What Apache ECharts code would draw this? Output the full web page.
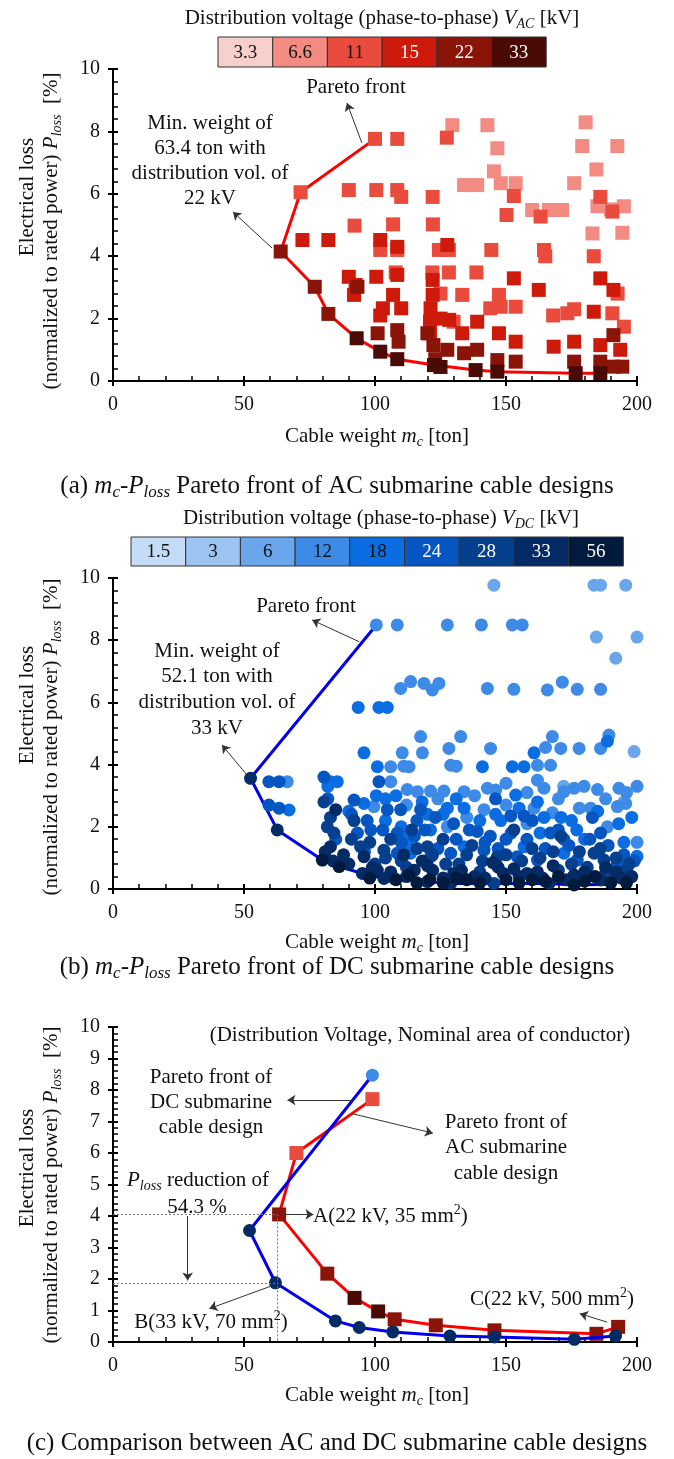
<!DOCTYPE html>
<html>
<head>
<meta charset="utf-8">
<script src="https://cdn.jsdelivr.net/npm/echarts@6/dist/echarts.min.js"></script>
<style>
html,body{margin:0;padding:0;background:#fff;}
#main{width:674px;height:1459px;}
</style>
</head>
<body>
<div id="main"></div>
<script>
// legend categories
var acVolts = ['3.3', '6.6', '11', '15', '22', '33'];
var dcVolts = ['1.5', '3', '6', '12', '18', '24', '28', '33', '56'];

// (a) AC designs [cable weight ton, loss %], one list per distribution voltage
var ac66 = [[129.5,8.2],[142.9,8.2],[146.7,7.46],[180.4,8.29],[179.1,7.53],[192.5,7.53],[184.5,6.78],[145.4,6.72],
  [134,6.28],[139,6.28],[148,6.34],[153.7,6.34],[176,6.34],[160,5.48],[166.4,5.48],[171.4,5.48],[184.9,5.6],
  [190,5.5],[195,5.6],[183,4.73],[194.4,4.75]];
var ac11 = [[100,7.76],[108.5,7.76],[127.4,7.8],[71.6,6.05],[90,6.12],[100.5,6.12],[108.5,6.12],[110,5.9],[122,5.9],
  [153,5.93],[150.2,5.32],[163.2,5.27],[186,5.9],[190.6,5.43],[92.2,4.98],[106.9,5.02],[122.1,5.02],[102,4.2],[108.5,4.2],
  [124.4,4.2],[128.2,4.2],[144.4,4.2],[164.5,4.2],[165,4.0],[183.5,4.0],[107.9,3.48],[121.9,3.48],[128.2,3.48],
  [138.7,3.48],[133.3,2.76],[147.3,2.76],[144,2.33],[148,2.38],[153.7,2.38],[168,2.1],[173.4,2.17],[176,2.3],
  [190.6,2.17],[195,1.74],[192.6,2.8],[125,2.8],[130,1.9]];
var ac15 = [[72.3,4.52],[82.2,4.52],[102,4.52],[108.5,4.3],[127.6,4.36],[90,3.34],[92.6,3.08],[100.5,3.34],[108.5,3.4],
  [92,2.76],[106.9,2.76],[122,3.24],[122,2.76],[103,2.33],[110,2.33],[121.2,2.33],[125,2.0],[121,1.9],[121,1.53],
  [128.3,1.96],[133.3,1.53],[139,1.9],[153,3.29],[162.5,2.92],[186,3.29],[191,2.92],[183.5,2.22],[147.3,1.53],
  [153.7,1.26],[168.2,1.1],[176,1.26],[186,1.15],[193.6,1.0],[102,2.1]];
var ac22 = [[64,4.15],[77,3.02],[82.2,2.15],[93.3,3.02],[101,1.53],[108.5,1.63],[109,1.26],[122.3,1.15],[127.6,1.0],
  [134,0.89],[139,1.0],[146.7,0.67],[153.7,0.62],[176,0.62],[186,0.62],[191,0.46],[194.4,0.46],[191,1.47],[120,1.53],[123,0.7]];
var ac33 = [[93,1.37],[102,0.94],[108.5,0.7],[122.5,0.51],[125,0.45],[138.4,0.35],[146.7,0.3],[176.6,0.25],[186,0.25]];
var acFront = [[100,7.76],[71.6,6.05],[64,4.15],[77,3.02],[82.2,2.15],[93,1.37],[102,0.94],[108.5,0.7],[122.5,0.51],
  [138.4,0.35],[146.7,0.3],[176.6,0.25],[186,0.25]];

// (b) DC designs
var dc6 = [[145.4,9.77],[183.6,9.77],[186.1,9.77],[195.7,9.77],[184.5,8.1],[200,8.1],[191.9,7.42],[198.9,4.42],[172,3.3],[195,2.8]];
var dc12 = [[100.5,8.49],[108.5,8.49],[127.6,8.49],[140.6,8.49],[152.4,8.49],[156.2,8.49],
  [109.8,6.45],[113.6,6.67],[118.7,6.61],[121.9,6.4],[124.4,6.61],[142.9,6.45],[153,6.42],[165.8,6.4],[171.5,6.65],
  [177.2,6.42],[186.1,6.42],[117.4,4.9],[132.7,4.9],[167.7,4.9],[189.3,4.95],[118.1,4.38],[128.2,4.52],[144.1,4.52],
  [165.1,4.55],[170.9,4.52],[177.9,4.52],[186.1,4.52],[110.4,4.38],[106,3.93],[111,3.95],[113,3.93],[128.9,3.98],
  [131,3.95],[162,3.98],[167,3.98],[112.3,3.2],[116.2,3.13],[121.2,3.15],[126.3,3.15],[134,3.13],[142.9,3.24],
  [146.1,3.18],[164.5,3.24],[172.1,3.13],[176,3.24],[179.8,3.3],[184.9,3.2],[193.1,3.24],[200,3.3],[66.5,3.45],
  [99.6,2.65],[141.6,2.55],[160.7,2.6],[167.7,2.45],[182.3,2.6],[192.5,2.65],[195.7,2.75],[150,2.7],[127.6,2.0],
  [188.7,2.0],[158,2.1],[200,1.5],[106,3.45],[138,3.0],[150,3.4],[158,3.1],[170,2.9],[188,2.9],[196,3.1],[124,2.9],
  [112,2.7],[135,2.3],[178,2.6],[162,3.5]];
var dc18 = [[93.6,5.84],[101.5,5.84],[104.7,5.84],[95.8,4.38],[160.7,4.38],[188.7,4.75],[100.9,3.93],[141,3.93],
  [152.4,3.93],[156.9,3.93],[83,3.45],[85.6,3.45],[153.7,3.02],[95.8,2.75],[67.2,2.54],[127.6,2.6],[134,2.6],
  [164.5,2.3],[121.2,1.9],[111.7,1.8],[112.3,1.45],[113.6,1.15],[134,1.36],[172.1,1.15],[200,1.05],[156.9,1.36],
  [180,1.6],[195,1.5],[162,2.8],[175,2.2],[148,2.2],[120,2.4],[104,2.9],[82,3.3],[100.5,3.0],[108,3.0],[118,2.8],
  [126,2.4],[131,2.9],[140,2.2],[146,2.4],[155,2.6],[163,1.8],[171,2.3],[177,1.9],[185,2.5],[193,2.1],[198,2.3],
  [110,2.0],[90,2.5],[104,2.2]];
var dc24 = [[59.5,3.45],[63.4,3.45],[101.5,3.45],[80.5,3.6],[59.5,2.7],[63.4,2.6],[92,2.86],[104.7,2.55],[109.8,2.55],
  [117.4,2.55],[151.8,2.35],[156.9,2.35],[93.3,1.8],[98.4,1.9],[108.5,1.8],[139,1.85],[144,1.7],[167,1.8],[172.1,1.6],
  [186.1,1.8],[108.5,1.15],[121.2,1.04],[128.9,1.15],[141.6,1.25],[154.3,1.04],[162,0.93],[177.2,0.93],[192.5,0.82],
  [116,2.2],[130,2.1],[146,2.9],[183,2.3],[96,1.2],[150,1.6],[82,2.9],[91,2.4],[97,2.2],[103,1.9],[110,1.5],[115,1.7],
  [119,1.9],[124,1.3],[131,1.6],[136,1.9],[142,1.5],[147,1.3],[152,1.8],[158,1.6],[165,1.3],[170,1.9],[174,1.4],
  [182,1.6],[189,1.4],[195,1.1],[199,0.9],[85,1.6],[123,2.3],[160,2.2]];
var dc28 = [[81.8,2.0],[84.3,1.8],[94.5,1.36],[103.4,1.25],[120,1.36],[146.7,1.04],[183.6,1.15],[187.4,0.93],[153,1.9],
  [145.4,0.18],[80.5,2.8],[92,2.2],[106,1.6],[126,1.6],[132,0.8],[160,1.3],[170,0.6],[188,0.5],[112,0.7],[140,0.55],
  [100,0.8],[178,1.2],[196,0.6],[83,2.3],[91,1.6],[98,1.5],[104,1.0],[110,0.9],[116,1.3],[122,1.1],[127,0.8],[135,1.1],
  [141,0.9],[150,1.1],[156,0.9],[163,1.0],[168,1.2],[175,0.8],[181,0.7],[186,1.3],[192,1.0],[197,0.8],[114,1.9],
  [137,1.4],[171,1.7]];
var dc33 = [[52.5,3.56],[62.7,1.9],[83,1.36],[95.8,1.04],[85,2.55],[95.2,0.5],[103.4,0.34],[107.3,0.34],[120,0.24],
  [128.9,0.18],[166.4,0.18],[186.1,0.29],[100.9,0.6],[112,0.4],[122,0.6],[138,0.4],[155,0.4],[162,0.55],[176,0.45],
  [194,0.35],[147,0.7],[81,1.2],[118,0.9],[130,0.5],[84,0.9],[90,0.8],[99,0.7],[106,0.55],[115,0.6],[120,0.75],
  [126,0.35],[133,0.6],[142,0.35],[149,0.5],[153,0.65],[158,0.5],[164,0.35],[168,0.75],[173,0.3],[180,0.55],[188,0.7],
  [192,0.55],[198,0.4],[88,1.1],[145,0.85],[111,1.1]];
var dc56 = [[79.9,0.93],[86.3,0.72],[176,0.13],[108,0.3],[121,0.3],[135,0.3],[150,0.3],[160,0.3],[170,0.4],[184,0.4],
  [190,0.2],[98,0.35],[116,0.2],[126,0.2],[140,0.2],[155,0.2],[165,0.25],[180,0.25],[196,0.2],[113,0.45],[131,0.35]];
var dcFront = [[100.5,8.49],[52.5,3.56],[62.7,1.9],[79.9,0.93],[86.3,0.72],[95.2,0.5],[103.4,0.34],[120,0.24],
  [128.9,0.18],[145.4,0.18],[166.4,0.18],[176,0.13],[190,0.15]];

// (c) the two Pareto fronts with the voltage of every design
var acFrontX = [99, 70, 63.4, 81.8, 92.2, 101.2, 107.5, 123.2, 145.6, 184.5, 192.8];
var acFrontY = [7.71, 6.0, 4.05, 2.17, 1.4, 0.97, 0.72, 0.53, 0.37, 0.26, 0.48];
var acFrontV = ['11', '11', '22', '22', '33', '33', '22', '22', '22', '22', '22'];
var dcFrontX = [99, 52.1, 62, 84.9, 94, 106.8, 128.6, 145.6, 176.1, 191.8];
var dcFrontY = [8.47, 3.54, 1.88, 0.67, 0.46, 0.32, 0.19, 0.16, 0.085, 0.19];
var dcFrontV = ['12', '33', '33', '33', '33', '33', '33', '33', '33', '33'];

var acColors = ['#f8d0cb', '#f28c83', '#e94b3c', '#cd1a0b', '#8b1409', '#4a0a06'];
var dcColors = ['#c5dcf6', '#9cc4f1', '#6aa6ec', '#3d8ae7', '#0a6de2', '#0656c2', '#063f8e', '#052b66', '#031a3f'];
var serif = 'Liberation Serif';

function acCol(v) { return acColors[acVolts.indexOf(v)]; }
function dcCol(v) { return dcColors[dcVolts.indexOf(v)]; }

var chart = echarts.init(document.getElementById('main'));

var grids = [
    {left: 113, top: 69, width: 524, height: 312},
    {left: 113, top: 578, width: 524, height: 311},
    {left: 113, top: 1027, width: 524, height: 315}
];

var xAxes = [], yAxes = [];
grids.forEach(function (g, gi) {
    var yInt = gi == 2 ? 1 : 2;
    xAxes.push({
        gridIndex: gi, type: 'value', min: 0, max: 200, interval: 50, position: 'bottom',
        axisLine: {lineStyle: {color: '#000', width: 2}},
        axisTick: {length: 5, lineStyle: {color: '#000', width: 2}},
        axisLabel: {margin: 14, fontSize: 20, fontFamily: serif, color: '#111'},
        splitLine: {show: false}
    });
    xAxes.push({
        gridIndex: gi, type: 'value', min: 0, max: 200, interval: 50, position: 'bottom',
        axisLine: {show: false},
        axisTick: {inside: true, length: 5, lineStyle: {color: '#000', width: 2}},
        minorTick: {show: true, splitNumber: 5, length: 5, lineStyle: {color: '#000', width: 1.5}},
        axisLabel: {show: false}, splitLine: {show: false}
    });
    yAxes.push({
        gridIndex: gi, type: 'value', min: 0, max: 10, interval: yInt, position: 'left',
        axisLine: {show: true, lineStyle: {color: '#000', width: 2}},
        axisTick: {show: true, length: 5, lineStyle: {color: '#000', width: 2}},
        axisLabel: {margin: 13, fontSize: 20, fontFamily: serif, color: '#111'},
        splitLine: {show: false}
    });
    yAxes.push({
        gridIndex: gi, type: 'value', min: 0, max: 10, interval: yInt, position: 'left',
        axisLine: {show: false},
        axisTick: {show: true, inside: true, length: 5, lineStyle: {color: '#000', width: 2}},
        minorTick: {show: true, splitNumber: 5, length: 5, lineStyle: {color: '#000', width: 1.5}},
        axisLabel: {show: false}, splitLine: {show: false}
    });
});

function scatter(gi, data, color, symbol, size) {
    return {
        type: 'scatter', xAxisIndex: gi * 2, yAxisIndex: gi * 2, data: data,
        symbol: symbol, symbolSize: size, z: 3,
        itemStyle: {color: color, opacity: 1}
    };
}

function arrows(lines, dotted) {
    return {
        silent: true, animation: false,
        symbol: dotted ? ['none', 'none'] : ['none', 'arrow'], symbolSize: 8,
        label: {show: false},
        lineStyle: dotted ? {color: '#777', width: 1, type: [2, 2]} : {color: '#333', width: 1, type: 'solid'},
        emphasis: {disabled: true},
        data: lines.map(function (l) { return [{coord: l[0]}, {coord: l[1]}]; })
    };
}

var series = [];
// (a)
series.push({
    type: 'line', xAxisIndex: 0, yAxisIndex: 0, data: acFront, symbol: 'none', z: 2,
    lineStyle: {color: '#ff0000', width: 3},
    markLine: arrows([[[95, 7.63], [89.3, 8.91]], [[60.7, 4.26], [45.8, 5.42]]])
});
series.push(scatter(0, ac66, acCol('6.6'), 'rect', 14));
series.push(scatter(0, ac11, acCol('11'), 'rect', 14));
series.push(scatter(0, ac15, acCol('15'), 'rect', 14));
series.push(scatter(0, ac22, acCol('22'), 'rect', 14));
series.push(scatter(0, ac33, acCol('33'), 'rect', 14));
// (b)
series.push({
    type: 'line', xAxisIndex: 2, yAxisIndex: 2, data: dcFront, symbol: 'none', z: 2,
    lineStyle: {color: '#0000ee', width: 3},
    markLine: arrows([[[94, 7.95], [76, 8.65]], [[51.1, 3.67], [41.6, 4.63]]])
});
series.push(scatter(1, dc6, dcCol('6'), 'circle', 13));
series.push(scatter(1, dc12, dcCol('12'), 'circle', 13));
series.push(scatter(1, dc18, dcCol('18'), 'circle', 13));
series.push(scatter(1, dc24, dcCol('24'), 'circle', 13));
series.push(scatter(1, dc28, dcCol('28'), 'circle', 13));
series.push(scatter(1, dc33, dcCol('33'), 'circle', 13));
series.push(scatter(1, dc56, dcCol('56'), 'circle', 13));
// (c)
series.push({
    type: 'line', xAxisIndex: 4, yAxisIndex: 4, symbol: 'rect', symbolSize: 14, z: 3,
    lineStyle: {color: '#ff0000', width: 3},
    data: acFrontX.map(function (x, i) {
        return {value: [x, acFrontY[i]], itemStyle: {color: acCol(acFrontV[i])}};
    }),
    markLine: arrows([[[0, 4.05], [62.5, 4.05]], [[0, 1.88], [62, 1.88]], [[62.5, 4.05], [62.5, 0]]], true)
});
series.push({
    type: 'line', xAxisIndex: 4, yAxisIndex: 4, symbol: 'circle', symbolSize: 13, z: 4,
    lineStyle: {color: '#0000ee', width: 3},
    data: dcFrontX.map(function (x, i) {
        return {value: [x, dcFrontY[i]], itemStyle: {color: dcCol(dcFrontV[i])}};
    }),
    markLine: arrows([[[91.5, 7.68], [66.6, 7.68]], [[91.2, 7.25], [122.1, 6.63]], [[28.5, 4.0], [28.5, 1.95]],
        [[64.8, 4.05], [76.5, 4.05]], [[60.5, 1.78], [36.8, 1.06]], [[188.6, 0.63], [178.2, 0.9]]])
});

// text helpers
function rich(size) {
    var sub = Math.round(size * 0.68);
    return {
        n: {fontFamily: serif, fontSize: size, fill: '#111', lineHeight: size + 5, verticalAlign: 'middle'},
        i: {fontFamily: serif, fontSize: size, fontStyle: 'italic', fill: '#111', lineHeight: size + 5, verticalAlign: 'middle'},
        s: {fontFamily: serif, fontSize: sub, fontStyle: 'italic', fill: '#111', lineHeight: sub, verticalAlign: 'bottom'},
        u: {fontFamily: serif, fontSize: Math.round(size * 0.65), fill: '#111', lineHeight: Math.round(size * 0.65), verticalAlign: 'top'}
    };
}
function txt(x, y, text, size, opt) {
    opt = opt || {};
    return {
        type: 'text', x: x, y: y, rotation: opt.rot || 0, z: 10, silent: true,
        style: {
            text: text, fontFamily: serif, fontSize: size, fill: opt.fill || '#111',
            align: opt.align || 'center', verticalAlign: 'middle', rich: rich(size)
        }
    };
}

var graphics = [];
function legendBar(x0, y0, w, h, volts, colors, darkFrom) {
    volts.forEach(function (v, i) {
        graphics.push({
            type: 'rect', shape: {x: x0 + i * w, y: y0, width: w, height: h}, z: 5, silent: true,
            style: {fill: colors[i], stroke: '#333', lineWidth: 1}
        });
        graphics.push(txt(x0 + i * w + w / 2, y0 + h / 2 + 1, v, 19, {fill: i >= darkFrom ? '#fff' : '#111'}));
    });
}

function yNames(cy1, cy2) {
    graphics.push(txt(27, cy1, 'Electrical loss', 21, {rot: Math.PI / 2}));
    graphics.push(txt(51, cy2, '{n|(normalized to rated power) }{i|P}{s|loss}{n|  [%]}', 21, {rot: Math.PI / 2}));
}

// (a)
graphics.push(txt(382, 18, '{n|Distribution voltage (phase-to-phase) }{i|V}{s|AC}{n| [kV]}', 21));
legendBar(218, 37, 54.7, 30, acVolts, acColors, 3);
graphics.push(txt(356, 87, 'Pareto front', 21));
['Min. weight of', '63.4 ton with', 'distribution vol. of', '22 kV'].forEach(function (s, i) {
    graphics.push(txt(210, 123 + i * 25.3, s, 21));
});
graphics.push(txt(377, 436, '{n|Cable weight }{i|m}{s|c}{n| [ton]}', 21));
yNames(197, 231);
graphics.push(txt(337, 486, '{n|(a) }{i|m}{s|c}{n|-}{i|P}{s|loss}{n| Pareto front of AC submarine cable designs}', 25));

// (b)
graphics.push(txt(381, 518, '{n|Distribution voltage (phase-to-phase) }{i|V}{s|DC}{n| [kV]}', 21));
legendBar(131, 537, 54.7, 29, dcVolts, dcColors, 5);
graphics.push(txt(306, 606, 'Pareto front', 21));
['Min. weight of', '52.1 ton with', 'distribution vol. of', '33 kV'].forEach(function (s, i) {
    graphics.push(txt(217, 651 + i * 25.7, s, 21));
});
graphics.push(txt(377, 942, '{n|Cable weight }{i|m}{s|c}{n| [ton]}', 21));
yNames(705, 737);
graphics.push(txt(337, 967, '{n|(b) }{i|m}{s|c}{n|-}{i|P}{s|loss}{n| Pareto front of DC submarine cable designs}', 25));

// (c)
graphics.push(txt(420, 1035, '(Distribution Voltage, Nominal area of conductor)', 21));
['Pareto front of', 'DC submarine', 'cable design'].forEach(function (s, i) {
    graphics.push(txt(211, 1077 + i * 25, s, 21));
});
['Pareto front of', 'AC submarine', 'cable design'].forEach(function (s, i) {
    graphics.push(txt(506, 1122 + i * 25.5, s, 21));
});
graphics.push(txt(198, 1180, '{i|P}{s|loss}{n| reduction of}', 21));
graphics.push(txt(197, 1207, '54.3 %', 21));
graphics.push(txt(313, 1216, '{n|A(22 kV, 35 mm}{u|2}{n|)}', 21, {align: 'left'}));
graphics.push(txt(211, 1322, '{n|B(33 kV, 70 mm}{u|2}{n|)}', 21));
graphics.push(txt(552, 1299, '{n|C(22 kV, 500 mm}{u|2}{n|)}', 21));
graphics.push(txt(377, 1395, '{n|Cable weight }{i|m}{s|c}{n| [ton]}', 21));
yNames(1168, 1185);
graphics.push(txt(337, 1443, '(c) Comparison between AC and DC submarine cable designs', 25));

chart.setOption({
    backgroundColor: '#fff',
    animation: false,
    grid: grids,
    xAxis: xAxes,
    yAxis: yAxes,
    series: series,
    graphic: graphics
});
</script>
</body>
</html>
